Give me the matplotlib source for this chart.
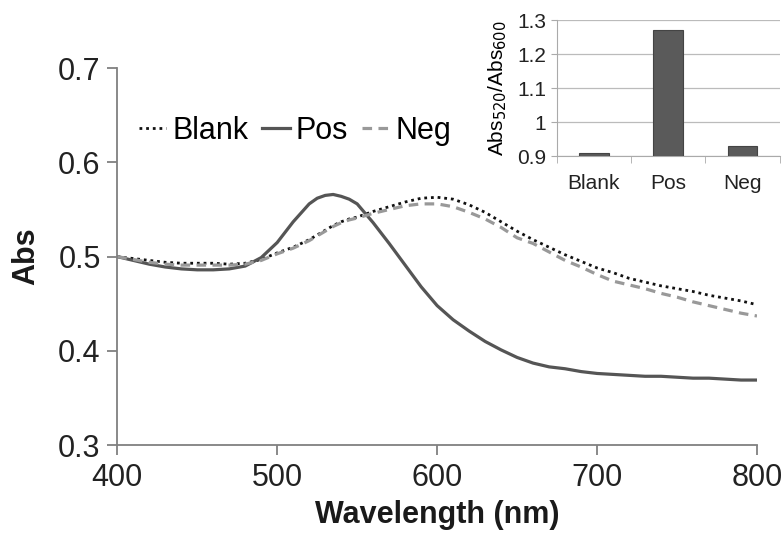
import matplotlib.pyplot as plt

plt.rcParams['font.family'] = ['Liberation Sans', 'DejaVu Sans']

wavelength = [400, 410, 420, 430, 440, 450, 460, 470, 480, 490,
              500, 510, 520, 525, 530, 535, 540, 545, 550, 560, 570, 580, 590,
              600, 610, 620, 630, 640, 650, 660, 670, 680, 690,
              700, 710, 720, 730, 740, 750, 760, 770, 780, 790, 800]

blank = [0.500, 0.498, 0.496, 0.494, 0.493, 0.493, 0.493, 0.492, 0.493, 0.497,
         0.504, 0.510, 0.518, 0.523, 0.528, 0.533, 0.537, 0.540, 0.542, 0.548, 0.553, 0.558, 0.562,
         0.563, 0.561, 0.555, 0.547, 0.537, 0.527, 0.518, 0.510, 0.502, 0.495,
         0.488, 0.483, 0.477, 0.473, 0.469, 0.466, 0.463, 0.459, 0.456, 0.453, 0.449]

pos = [0.500, 0.496, 0.492, 0.489, 0.487, 0.486, 0.486, 0.487, 0.490, 0.499,
       0.515, 0.537, 0.556, 0.562, 0.565, 0.566, 0.564, 0.561, 0.556, 0.536, 0.514, 0.491, 0.468,
       0.448, 0.433, 0.421, 0.410, 0.401, 0.393, 0.387, 0.383, 0.381, 0.378,
       0.376, 0.375, 0.374, 0.373, 0.373, 0.372, 0.371, 0.371, 0.370, 0.369, 0.369]

neg = [0.500, 0.497, 0.494, 0.492, 0.491, 0.491, 0.491, 0.491, 0.492, 0.496,
       0.503, 0.509, 0.517, 0.522, 0.527, 0.532, 0.536, 0.539, 0.541, 0.546, 0.550, 0.554, 0.556,
       0.556, 0.553, 0.547, 0.540, 0.531, 0.520, 0.514, 0.505, 0.496, 0.489,
       0.481, 0.474, 0.470, 0.466, 0.461, 0.457, 0.452, 0.448, 0.444, 0.440, 0.437]

samples = ["Blank", "Pos", "Neg"]
ratios = [0.91, 1.27, 0.93]

fig = plt.figure(figsize=(7.82, 5.33), dpi=100)
ax = fig.add_axes([0.150, 0.165, 0.818, 0.707])

ax.plot(wavelength, blank, color="#111111", linestyle=(0, (1, 1.4)), linewidth=2.0, label="Blank")
ax.plot(wavelength, pos, color="#555555", linestyle="-", linewidth=2.3, label="Pos")
ax.plot(wavelength, neg, color="#999999", linestyle=(0, (3, 2)), linewidth=2.3, label="Neg")

ax.set_xlim(400, 800)
ax.set_ylim(0.3, 0.7)
ax.set_xticks([400, 500, 600, 700, 800])
ax.set_yticks([0.3, 0.4, 0.5, 0.6, 0.7])
ax.set_yticklabels(["0.3", "0.4", "0.5", "0.6", "0.7"])
for s in ["top", "right"]:
    ax.spines[s].set_visible(False)
for s in ["left", "bottom"]:
    ax.spines[s].set_color("#808080")
    ax.spines[s].set_linewidth(1.3)
ax.tick_params(axis="both", labelsize=22, colors="#808080", labelcolor="#222222",
               length=7, width=1.3)
ax.tick_params(axis="x", pad=6)
ax.tick_params(axis="y", pad=5)
ax.set_xlabel("Wavelength (nm)", fontsize=22, fontweight="bold", labelpad=5, color="#1a1a1a")
ax.set_ylabel("Abs", fontsize=22, fontweight="bold", labelpad=12, color="#1a1a1a")

ax.legend(loc="upper left", bbox_to_anchor=(0.0, 0.93), ncol=3, frameon=False,
          fontsize=22, handlelength=0.9, handletextpad=0.2, columnspacing=0.45,
          borderaxespad=0.3)

# inset bar chart
ins = fig.add_axes([0.712, 0.707, 0.285, 0.255])
ins.bar(range(len(samples)), ratios, width=0.4, color="#5a5a5a", edgecolor="#444444",
        linewidth=0.8, zorder=3)
ins.set_xlim(-0.5, 2.5)
ins.set_ylim(0.9, 1.3)
ins.set_yticks([0.9, 1.0, 1.1, 1.2, 1.3])
ins.set_yticklabels(["0.9", "1", "1.1", "1.2", "1.3"])
ins.set_xticks(range(len(samples)))
ins.set_xticklabels(samples)
ins.set_xticks([-0.5, 0.5, 1.5, 2.5], minor=True)
ins.tick_params(axis="x", which="major", length=0, pad=13)
ins.tick_params(axis="x", which="minor", length=5, color="#aaaaaa")
ins.tick_params(axis="y", length=4, color="#aaaaaa")
ins.tick_params(labelsize=15, labelcolor="#222222")
ins.grid(axis="y", color="#bbbbbb", linewidth=0.9, zorder=0)
for s in ["top", "right"]:
    ins.spines[s].set_visible(False)
for s in ["left", "bottom"]:
    ins.spines[s].set_color("#aaaaaa")
ins.set_ylabel("Abs$_{520}$/Abs$_{600}$", fontsize=15, labelpad=6)

fig.savefig("out.png", dpi=100)
